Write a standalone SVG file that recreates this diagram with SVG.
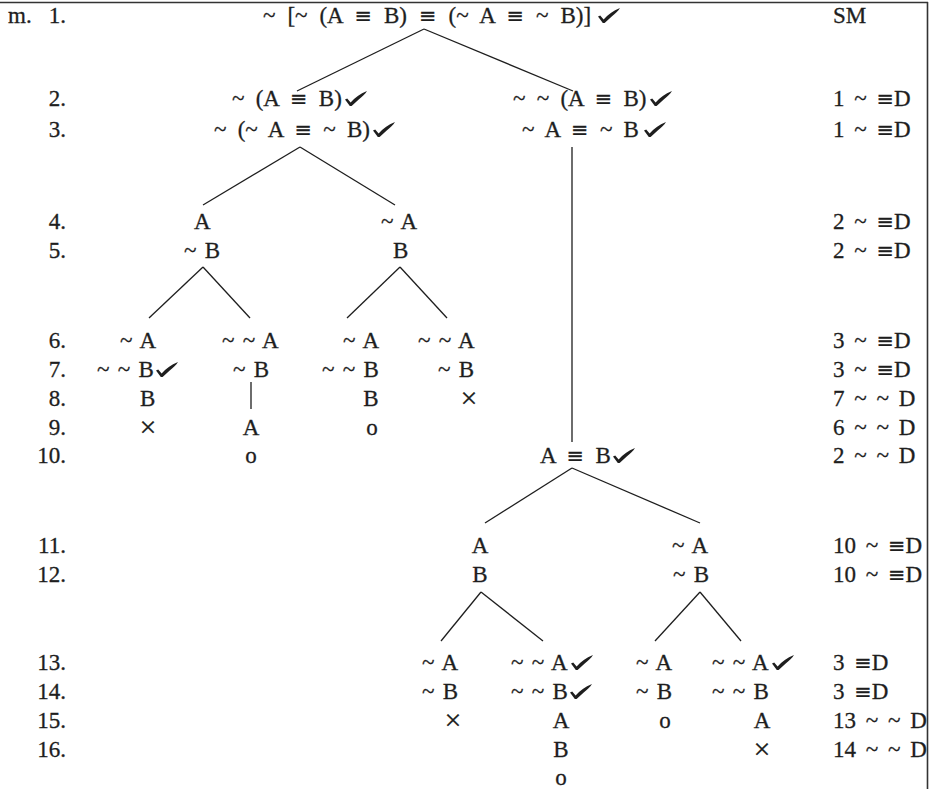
<svg xmlns="http://www.w3.org/2000/svg" xmlns:xlink="http://www.w3.org/1999/xlink" width="937" height="789" viewBox="0 0 937 789">
<style>
text{font-family:"Liberation Serif","Times New Roman",serif;font-size:23px;fill:#1e1e1e;stroke:#1e1e1e;stroke-width:0.3}
.eq{font-family:"DejaVu Sans",sans-serif;font-size:21px;stroke-width:0.15}
.x{font-size:30px;stroke-width:0.2}
.n{text-anchor:end}
.c{text-anchor:middle}
.t{word-spacing:2.5px}
.f{word-spacing:5.5px}
.f1{word-spacing:6.2px}
.r{word-spacing:4px}
.ln{stroke:#1e1e1e;stroke-width:1.3;fill:none}
.bd{stroke:#333;stroke-width:1.6;fill:none}
</style>
<defs>
<symbol id="tick" viewBox="0 0 22 15" overflow="visible">
<path d="M0,8.5 L2.2,7.4 L5.6,11.4 C10,6.8 15,2.8 22,0 C20.2,3 17.2,5.6 14,8.2 L6.6,15 L4.8,15 Z" fill="#1e1e1e"/>
</symbol>
</defs>
<rect width="937" height="789" fill="#fff"/>
<g id="frame">
<line class="bd" x1="0" y1="2.5" x2="928" y2="2.5"/>
<line class="bd" x1="927.5" y1="2" x2="927.5" y2="789"/>
</g>
<g id="rownumbers">
<text x="8" y="23">m. <tspan x="66" text-anchor="end">1.</tspan></text>
<text class="n" x="66" y="106">2.</text>
<text class="n" x="66" y="137">3.</text>
<text class="n" x="66" y="229">4.</text>
<text class="n" x="66" y="258">5.</text>
<text class="n" x="66" y="348">6.</text>
<text class="n" x="66" y="377">7.</text>
<text class="n" x="66" y="406">8.</text>
<text class="n" x="66" y="435">9.</text>
<text class="n" x="66" y="463">10.</text>
<text class="n" x="66" y="553">11.</text>
<text class="n" x="66" y="582">12.</text>
<text class="n" x="66" y="670">13.</text>
<text class="n" x="66" y="699">14.</text>
<text class="n" x="66" y="728">15.</text>
<text class="n" x="66" y="757">16.</text>
</g>
<g id="justifications">
<text class="r" x="833" y="23">SM</text>
<text class="r" x="833" y="106">1 ~ <tspan class="eq">≡</tspan>D</text>
<text class="r" x="833" y="137">1 ~ <tspan class="eq">≡</tspan>D</text>
<text class="r" x="833" y="229">2 ~ <tspan class="eq">≡</tspan>D</text>
<text class="r" x="833" y="258">2 ~ <tspan class="eq">≡</tspan>D</text>
<text class="r" x="833" y="348">3 ~ <tspan class="eq">≡</tspan>D</text>
<text class="r" x="833" y="377">3 ~ <tspan class="eq">≡</tspan>D</text>
<text class="r" x="833" y="406">7 ~ ~ D</text>
<text class="r" x="833" y="435">6 ~ ~ D</text>
<text class="r" x="833" y="463">2 ~ ~ D</text>
<text class="r" x="833" y="553">10 ~ <tspan class="eq">≡</tspan>D</text>
<text class="r" x="833" y="582">10 ~ <tspan class="eq">≡</tspan>D</text>
<text class="r" x="833" y="670">3 <tspan class="eq">≡</tspan>D</text>
<text class="r" x="833" y="699">3 <tspan class="eq">≡</tspan>D</text>
<text class="r" x="833" y="728">13 ~ ~ D</text>
<text class="r" x="833" y="757">14 ~ ~ D</text>
</g>
<g id="connectors">
<line class="ln" x1="424" y1="29" x2="297" y2="91"/>
<line class="ln" x1="424" y1="29" x2="573" y2="91"/>
<line class="ln" x1="300" y1="147" x2="203" y2="205"/>
<line class="ln" x1="300" y1="147" x2="395" y2="205"/>
<line class="ln" x1="572" y1="147" x2="572" y2="442"/>
<line class="ln" x1="203" y1="267" x2="149" y2="318"/>
<line class="ln" x1="203" y1="267" x2="250" y2="318"/>
<line class="ln" x1="400" y1="267" x2="347" y2="318"/>
<line class="ln" x1="400" y1="267" x2="447" y2="318"/>
<line class="ln" x1="251" y1="382" x2="251" y2="409"/>
<line class="ln" x1="572" y1="468" x2="485" y2="523"/>
<line class="ln" x1="572" y1="468" x2="700" y2="523"/>
<line class="ln" x1="481" y1="592" x2="441" y2="641"/>
<line class="ln" x1="481" y1="592" x2="543" y2="641"/>
<line class="ln" x1="700" y1="592" x2="655" y2="641"/>
<line class="ln" x1="700" y1="592" x2="741" y2="641"/>
</g>
<g id="n1">
<text class="f1" x="263" y="23">~ [~ (A <tspan class="eq">≡</tspan> B) <tspan class="eq">≡</tspan> (~ A <tspan class="eq">≡</tspan> ~ B)]</text>
<use href="#tick" xlink:href="#tick" x="598" y="8" width="22" height="15"/>
</g>
<g id="n2">
<text class="f" x="232" y="106">~ (A <tspan class="eq">≡</tspan> B)</text>
<use href="#tick" xlink:href="#tick" x="345" y="91" width="22" height="15"/>
<text class="f" x="214" y="137">~ (~ A <tspan class="eq">≡</tspan> ~ B)</text>
<use href="#tick" xlink:href="#tick" x="373" y="122" width="22" height="15"/>
</g>
<g id="n3">
<text class="f" x="513" y="106">~ ~ (A <tspan class="eq">≡</tspan> B)</text>
<use href="#tick" xlink:href="#tick" x="650" y="91" width="22" height="15"/>
<text class="f" x="522" y="137">~ A <tspan class="eq">≡</tspan> ~ B</text>
<use href="#tick" xlink:href="#tick" x="644" y="122" width="22" height="15"/>
</g>
<g id="n4">
<text x="194" y="229">A</text>
<text class="t" x="184" y="258">~ B</text>
</g>
<g id="n5">
<text class="t" x="381" y="229">~ A</text>
<text x="393" y="258">B</text>
</g>
<g id="n6">
<text class="t" x="120" y="348">~ A</text>
<text class="t" x="97" y="377">~ ~ B</text>
<use href="#tick" xlink:href="#tick" x="156" y="362" width="22" height="15"/>
<text x="140" y="406">B</text>
<text class="c x" x="148" y="437">×</text>
</g>
<g id="n7">
<text class="t" x="222" y="348">~ ~ A</text>
<text class="t" x="233" y="377">~ B</text>
<text class="c" x="251" y="435">A</text>
<text class="c" x="251" y="463">o</text>
</g>
<g id="n8">
<text class="t" x="343" y="348">~ A</text>
<text class="t" x="322" y="377">~ ~ B</text>
<text class="c" x="371" y="406">B</text>
<text class="c" x="372" y="435">o</text>
</g>
<g id="n9">
<text class="t" x="418" y="348">~ ~ A</text>
<text class="t" x="438" y="377">~ B</text>
<text class="c x" x="469" y="408">×</text>
</g>
<g id="n10">
<text class="f" x="540" y="463">A <tspan class="eq">≡</tspan> B</text>
<use href="#tick" xlink:href="#tick" x="613" y="448" width="22" height="15"/>
</g>
<g id="n11">
<text class="c" x="480" y="553">A</text>
<text class="c" x="480" y="582">B</text>
</g>
<g id="n12">
<text class="t" x="672" y="553">~ A</text>
<text class="t" x="673" y="582">~ B</text>
</g>
<g id="n13">
<text class="t" x="422" y="670">~ A</text>
<text class="t" x="422" y="699">~ B</text>
<text class="c x" x="453" y="730">×</text>
</g>
<g id="n14">
<text class="t" x="511" y="670">~ ~ A</text>
<use href="#tick" xlink:href="#tick" x="571" y="655" width="22" height="15"/>
<text class="t" x="511" y="699">~ ~ B</text>
<use href="#tick" xlink:href="#tick" x="570" y="684" width="22" height="15"/>
<text class="c" x="561" y="728">A</text>
<text class="c" x="561" y="757">B</text>
<text class="c" x="561" y="785">o</text>
</g>
<g id="n15">
<text class="t" x="636" y="670">~ A</text>
<text class="t" x="636" y="699">~ B</text>
<text class="c" x="665" y="728">o</text>
</g>
<g id="n16">
<text class="t" x="712" y="670">~ ~ A</text>
<use href="#tick" xlink:href="#tick" x="772" y="655" width="22" height="15"/>
<text class="t" x="712" y="699">~ ~ B</text>
<text class="c" x="762" y="728">A</text>
<text class="c x" x="762" y="759">×</text>
</g>
</svg>
